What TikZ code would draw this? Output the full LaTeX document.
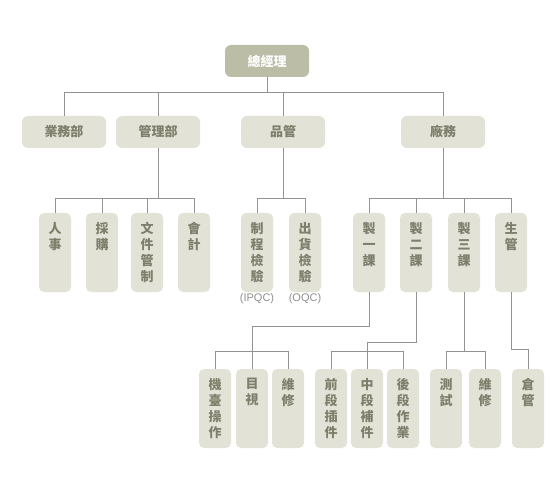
\documentclass[tikz,border=0pt]{standalone}
\usepackage{fontspec}
\setmainfont{Noto Sans CJK TC}
\newfontfamily\latinfont{Liberation Sans}
\usetikzlibrary{positioning}

\definecolor{sage}{HTML}{BBBDA6}
\definecolor{pale}{HTML}{E2E3D6}
\definecolor{ink}{HTML}{7E7F6B}
\definecolor{wirecol}{HTML}{939393}
\definecolor{notecol}{HTML}{8E8E8E}

\newcommand{\vlabel}[1]{\vbox to 79pt{\hsize=32pt\vskip 9pt\centering #1\par\vfill}}

\begin{document}
\begin{tikzpicture}[x=1pt,y=-1pt,
  chiefbox/.style={fill=sage,rounded corners=6pt,minimum width=84pt,minimum height=32pt,inner sep=0pt,text=white,font=\fontsize{13pt}{16pt}\selectfont\bfseries},
  deptbox/.style={fill=pale,rounded corners=6pt,minimum width=84pt,minimum height=32pt,inner sep=0pt,text=ink,font=\fontsize{13pt}{16pt}\selectfont\bfseries},
  unitbox/.style={fill=pale,rounded corners=5pt,inner sep=0pt,text=ink,font=\fontsize{13pt}{16pt}\selectfont\bfseries},
  notetext/.style={text=notecol,inner sep=1pt,font=\latinfont\fontsize{11pt}{13pt}\selectfont},
  link/.style={draw=wirecol,line width=0.9pt}]
\useasboundingbox (0,0) rectangle (560,500);

\node[chiefbox] (chief) at (267,61) {總經理};

\node[deptbox] (sales) at (64,132) {業務部};
\node[deptbox] (mgmt) at (158,132) {管理部};
\node[deptbox] (qc) at (283,132) {品管};
\node[deptbox] (factory) at (443,132) {廠務};

\node[unitbox] (hr) at (55,252.5) {\vlabel{人\\事}};
\node[unitbox] (buy) at (102,252.5) {\vlabel{採\\購}};
\node[unitbox] (docs) at (147,252.5) {\vlabel{文\\件\\管\\制}};
\node[unitbox] (acct) at (194,252.5) {\vlabel{會\\計}};
\node[unitbox] (ipqc) at (257,252.5) {\vlabel{制\\程\\檢\\驗}};
\node[unitbox] (oqc) at (305,252.5) {\vlabel{出\\貨\\檢\\驗}};
\node[unitbox] (sec1) at (369,252.5) {\vlabel{製\\一\\課}};
\node[unitbox] (sec2) at (416,252.5) {\vlabel{製\\二\\課}};
\node[unitbox] (sec3) at (464,252.5) {\vlabel{製\\三\\課}};
\node[unitbox] (plan) at (511,252.5) {\vlabel{生\\管}};

\node[notetext,below=0pt of ipqc] (ipqcnote) {(IPQC)};
\node[notetext,below=0pt of oqc] (oqcnote) {(OQC)};

\node[unitbox] (machine) at (215,408.5) {\vlabel{機\\臺\\操\\作}};
\node[unitbox] (visual) at (252,408.5) {\vlabel{目\\視}};
\node[unitbox] (fixa) at (288,408.5) {\vlabel{維\\修}};
\node[unitbox] (front) at (331,408.5) {\vlabel{前\\段\\插\\件}};
\node[unitbox] (middle) at (367,408.5) {\vlabel{中\\段\\補\\件}};
\node[unitbox] (back) at (403,408.5) {\vlabel{後\\段\\作\\業}};
\node[unitbox] (test) at (446,408.5) {\vlabel{測\\試}};
\node[unitbox] (fixb) at (485,408.5) {\vlabel{維\\修}};
\node[unitbox] (store) at (528,408.5) {\vlabel{倉\\管}};

\draw[link] (chief.south) -- ++(0,15) -| (sales.north);
\draw[link] (chief.south) -- ++(0,15) -| (factory.north);
\draw[link] (mgmt.north) -- ++(0,-24);
\draw[link] (qc.north) -- ++(0,-24);

\draw[link] (mgmt.south) -- ++(0,51);
\draw[link] (hr.north) -- ++(0,-14) -| (acct.north);
\draw[link] (buy.north) -- ++(0,-14);
\draw[link] (docs.north) -- ++(0,-14);

\draw[link] (qc.south) -- ++(0,51);
\draw[link] (ipqc.north) -- ++(0,-14) -| (oqc.north);

\draw[link] (factory.south) -- ++(0,51);
\draw[link] (sec1.north) -- ++(0,-14) -| (plan.north);
\draw[link] (sec2.north) -- ++(0,-14);
\draw[link] (sec3.north) -- ++(0,-14);

\draw[link] (sec1.south) -- ++(0,34) -| (visual.north);
\draw[link] (machine.north) -- ++(0,-17) -| (fixa.north);
\draw[link] (sec2.south) -- ++(0,50) -| (middle.north);
\draw[link] (front.north) -- ++(0,-17) -| (back.north);
\draw[link] (sec3.south) -- ++(0,60);
\draw[link] (test.north) -- ++(0,-17) -| (fixb.north);
\draw[link] (plan.south) -- ++(0,57) -| (store.north);
\end{tikzpicture}
\end{document}
